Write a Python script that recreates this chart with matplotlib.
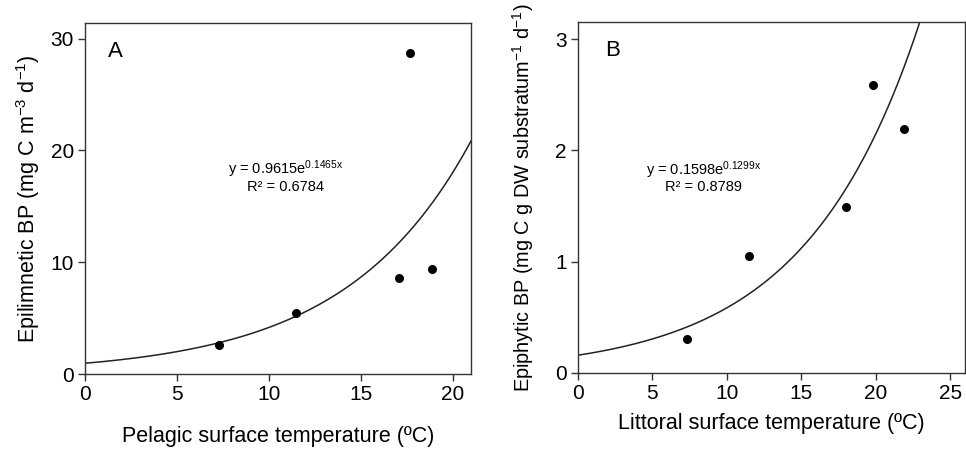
import numpy as np
import matplotlib.pyplot as plt

plt.rcParams['font.family'] = ['Liberation Sans', 'DejaVu Sans']
plt.rcParams['mathtext.fontset'] = 'custom'
plt.rcParams['mathtext.rm'] = 'Liberation Sans'
plt.rcParams['mathtext.default'] = 'regular'

# Panel A: pelagic
pel_temp = [7.3, 11.5, 17.1, 17.7, 18.9]
pel_bp = [2.55, 5.45, 8.6, 28.75, 9.4]
pel_a, pel_b = 0.9615, 0.1465
pel_r2 = 0.6784

# Panel B: littoral
lit_temp = [7.3, 11.5, 18.0, 19.8, 21.9]
lit_bp = [0.305, 1.055, 1.49, 2.59, 2.195]
lit_a, lit_b = 0.1598, 0.1299
lit_r2 = 0.8789

W, H = 966, 454
fig = plt.figure(figsize=(W / 100, H / 100), dpi=100)


def px_axes(l, t, r, b):
    return fig.add_axes([l / W, 1 - b / H, (r - l) / W, (b - t) / H])


def style(ax):
    for s in ax.spines.values():
        s.set_color('#333333')
        s.set_linewidth(1.0)
    ax.tick_params(direction='out', length=5, width=1, color='#333333',
                   labelsize=15, pad=3)


axA = px_axes(85, 23, 471, 374)
xs = np.linspace(0, 21, 300)
axA.plot(xs, pel_a * np.exp(pel_b * xs), color='#222222', lw=1.1)
axA.scatter(pel_temp, pel_bp, s=30, color='black', zorder=3)
axA.set_xlim(0, 21)
axA.set_ylim(0, 31.4)
axA.set_xticks([0, 5, 10, 15, 20])
axA.set_yticks([0, 10, 20, 30])
style(axA)
axA.set_xlabel('Pelagic surface temperature (ºC)', fontsize=15.5)
axA.xaxis.set_label_coords(0.5, -0.148)
axA.set_ylabel('Epilimnetic BP (mg C m$^{-3}$ d$^{-1}$)', fontsize=15.5)
axA.yaxis.set_label_coords(-0.111, 0.5)
axA.text(0.06, 0.92, 'A', transform=axA.transAxes, fontsize=16, va='center')
axA.text(10.9, 18.3, 'y = %.4fe$^{%.4fx}$' % (pel_a, pel_b), ha='center',
         va='center', fontsize=10.5)
axA.text(10.9, 16.7, 'R² = %.4f' % pel_r2, ha='center', va='center',
         fontsize=10.5)

axB = px_axes(578, 22, 965, 373)
xs = np.linspace(0, 26, 300)
axB.plot(xs, lit_a * np.exp(lit_b * xs), color='#222222', lw=1.1)
axB.scatter(lit_temp, lit_bp, s=30, color='black', zorder=3)
axB.set_xlim(0, 26)
axB.set_ylim(0, 3.155)
axB.set_xticks([0, 5, 10, 15, 20, 25])
axB.set_yticks([0, 1, 2, 3])
style(axB)
axB.set_xlabel('Littoral surface temperature (ºC)', fontsize=15.5)
axB.xaxis.set_label_coords(0.5, -0.114)
axB.set_ylabel('Epiphytic BP (mg C g DW substratum$^{-1}$ d$^{-1}$)', fontsize=14.3)
axB.yaxis.set_label_coords(-0.108, 0.5)
axB.text(0.07, 0.92, 'B', transform=axB.transAxes, fontsize=16, va='center')
axB.text(8.45, 1.825, 'y = %.4fe$^{%.4fx}$' % (lit_a, lit_b), ha='center',
         va='center', fontsize=10.5)
axB.text(8.45, 1.67, 'R² = %.4f' % lit_r2, ha='center', va='center',
         fontsize=10.5)

fig.savefig('out.png', dpi=100)
